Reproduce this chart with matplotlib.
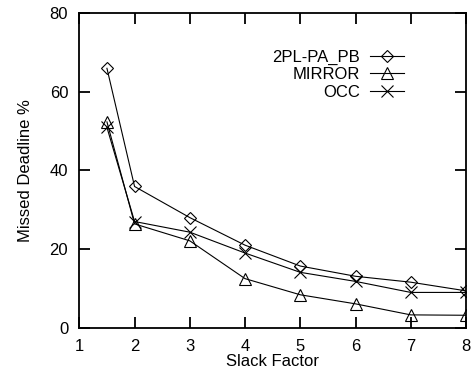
import numpy as np
import matplotlib.pyplot as plt

# =====================
# DATA
# =====================
slack = [1.5, 2, 3, 4, 5, 6, 7, 8]
pl_pa_pb = [65.9, 35.9, 28.0, 21.0, 15.7, 13.1, 11.6, 9.4]
mirror = [52.3, 26.4, 22.1, 12.5, 8.4, 6.1, 3.3, 3.2]
occ = [50.9, 27.0, 24.3, 19.0, 14.1, 11.8, 9.0, 9.0]

x_ticks = [1, 2, 3, 4, 5, 6, 7, 8]
y_ticks = [0, 20, 40, 60, 80]

# =====================
# STYLE
# =====================
plt.rcParams.update({
    "font.family": ["Liberation Sans", "DejaVu Sans"],
    "font.size": 12,
    "axes.linewidth": 1.3,
})

fig = plt.figure(figsize=(4.75, 3.76), dpi=100)
ax = fig.add_axes([0.167, 0.128, 0.814, 0.838])

line_kw = dict(color="black", lw=0.8, markerfacecolor="none",
               markeredgecolor="black", markeredgewidth=0.8)

ax.plot(slack, pl_pa_pb, marker="D", ms=5.8, label="2PL-PA_PB", **line_kw)
ax.plot(slack, mirror, marker="^", ms=8, label="MIRROR", **line_kw)
ax.plot(slack, occ, marker="x", ms=8, label="OCC", **line_kw)

ax.set_xlim(1, 8)
ax.set_ylim(0, 80)
ax.set_xticks(x_ticks)
ax.set_yticks(y_ticks)

ax.tick_params(direction="in", length=8, width=1.3, top=True, right=True,
               labelsize=12)
ax.tick_params(axis="x", pad=8)
ax.tick_params(axis="y", pad=8)

ax.set_xlabel("Slack Factor", fontsize=12, labelpad=0)
ax.set_ylabel("Missed Deadline %", fontsize=12, labelpad=12)

ax.legend(loc="upper right", bbox_to_anchor=(0.86, 0.91), frameon=False,
          markerfirst=False, handlelength=2.0, handletextpad=0.6,
          labelspacing=0.15, borderpad=0, fontsize=12)

plt.savefig("out.png", dpi=100)
